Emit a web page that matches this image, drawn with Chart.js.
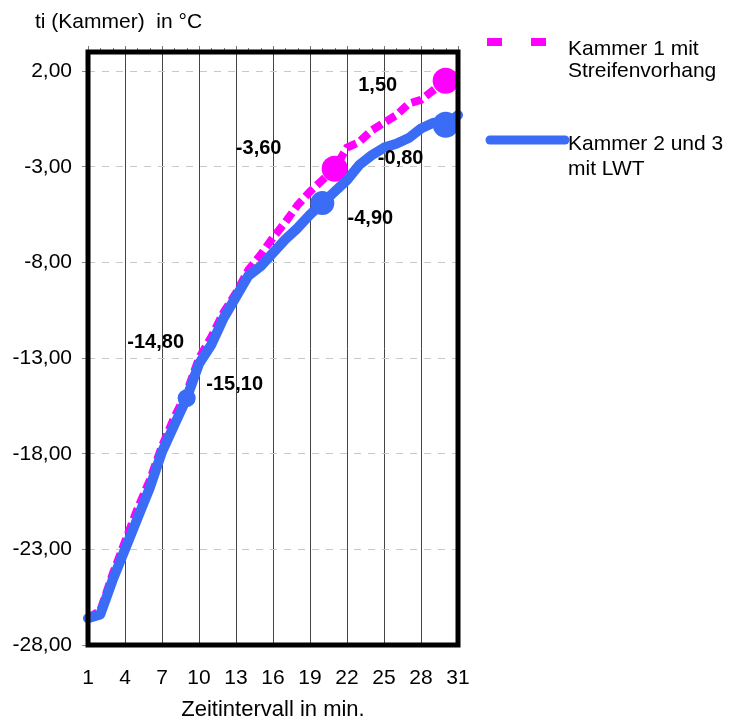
<!DOCTYPE html>
<html>
<head>
<meta charset="utf-8">
<script src="https://cdn.jsdelivr.net/npm/chart.js@4.4.1/dist/chart.umd.min.js"></script>
<style>
  html, body { margin: 0; padding: 0; background: #fff; }
  #wrap { width: 730px; height: 721px; }
</style>
</head>
<body>
<div id="wrap"><canvas id="chart"></canvas></div>
<script>
// minutes on the x axis
const minutes = ["1", "2", "3", "4", "5", "6", "7", "8", "9", "10", "11", "12", "13", "14", "15", "16",
  "17", "18", "19", "20", "21", "22", "23", "24", "25", "26", "27", "28", "29", "30", "31"]

// Kammer 1 mit Streifenvorhang
const kammer1 = [-26.6, -26.2, -24.3, -22.6, -20.9, -19.4, -17.6, -16.1, -14.8, -13.0, -11.9, -10.6, -9.6, -8.4, -7.6, -6.7,
  -5.9, -5.0, -4.3, -3.7, -3.1, -2.0, -1.7, -1.1, -0.7, -0.3, 0.3, 0.5, 1.0, 1.5, 1.7]

// Kammer 2 und 3 mit LWT
const kammer23 = [-26.6, -26.4, -24.6, -23.0, -21.4, -19.8, -17.9, -16.5, -15.1, -13.3, -12.3, -10.9, -9.8, -8.7, -8.2, -7.5,
  -6.8, -6.2, -5.5, -4.9, -4.3, -3.7, -2.9, -2.4, -2.0, -1.8, -1.5, -1.0, -0.7, -0.8, -0.3]

const yTicks = [-28, -23, -18, -13, -8, -3, 2]

// data labels (index -> text)
const kammer1Labels = { 8: "-14,80", 20: "-3,60", 29: "1,50" }
const kammer23Labels = { 8: "-15,10", 19: "-4,90", 29: "-0,80" }

const FONT = "'Liberation Sans', Arial, sans-serif"

// marker sizes and label offsets
const markers1 = { 20: 13, 29: 13 }
const markers23 = { 8: 9, 19: 12, 29: 13 }
const labelOffsets = [
  { 8: [-31, -50], 20: [-76, -20], 29: [-68, 5] },
  { 8: [48, -14], 19: [48, 15], 29: [-45, 34] },
]

const frame = {
  id: "frame",
  beforeDatasetsDraw(chart) {
    const { ctx, chartArea: a, scales } = chart
    ctx.save()
    // small ticks above the top border
    ctx.strokeStyle = "#777"
    ctx.lineWidth = 1
    minutes.forEach((m, i) => {
      const x = Math.round(scales.x.getPixelForValue(i)) + 0.5
      ctx.beginPath()
      ctx.moveTo(x, a.top - (i % 3 === 0 ? 6 : 4))
      ctx.lineTo(x, a.top)
      ctx.stroke()
    })
    ctx.restore()
  },
  afterDatasetsDraw(chart) {
    const { ctx, chartArea: a } = chart
    ctx.save()
    ctx.strokeStyle = "#000"
    ctx.lineWidth = 5
    ctx.strokeRect(a.left, a.top, a.right - a.left, a.bottom - a.top)
    ctx.restore()
  },
  afterDraw(chart) {
    const { ctx } = chart
    ctx.save()
    // data labels
    ctx.font = "bold 20px " + FONT
    ctx.fillStyle = "#000"
    ctx.textAlign = "center"
    ctx.textBaseline = "middle"
    ;[kammer1Labels, kammer23Labels].forEach((lbls, d) => {
      const meta = chart.getDatasetMeta(d)
      Object.keys(lbls).forEach(k => {
        const pt = meta.data[k]
        const off = labelOffsets[d][k]
        ctx.fillText(lbls[k], pt.x + off[0], pt.y + off[1])
      })
    })

    // y axis caption
    ctx.font = "21px " + FONT
    ctx.textAlign = "left"
    ctx.textBaseline = "alphabetic"
    ctx.fillText("ti (Kammer)  in °C", 35, 28)

    // legend
    const ds = chart.data.datasets
    ctx.strokeStyle = ds[0].borderColor
    ctx.lineWidth = 8
    ctx.setLineDash([15, 29])
    ctx.beginPath()
    ctx.moveTo(487, 42)
    ctx.lineTo(547, 42)
    ctx.stroke()
    ctx.setLineDash([])
    ctx.strokeStyle = ds[1].borderColor
    ctx.lineWidth = 9
    ctx.lineCap = "round"
    ctx.beginPath()
    ctx.moveTo(490, 140)
    ctx.lineTo(565, 140)
    ctx.stroke()
    ctx.fillText("Kammer 1 mit", 568, 55)
    ctx.fillText("Streifenvorhang", 568, 77)
    ctx.fillText("Kammer 2 und 3", 568, 150)
    ctx.fillText("mit LWT", 568, 175)
    ctx.restore()
  },
}

new Chart(document.getElementById("chart"), {
  type: "line",
  data: {
    labels: minutes,
    datasets: [
      {
        label: "Kammer 1 mit Streifenvorhang",
        data: kammer1,
        borderColor: "#FF00FF",
        backgroundColor: "#FF00FF",
        borderWidth: 8,
        borderDash: [11, 5],
        tension: 0,
        order: 1,
        pointRadius: ctx => markers1[ctx.dataIndex] || 0,
        pointBorderWidth: 0,
        pointHoverRadius: 0,
      },
      {
        label: "Kammer 2 und 3 mit LWT",
        data: kammer23,
        borderColor: "#3A6CF6",
        backgroundColor: "#3A6CF6",
        borderWidth: 10,
        borderCapStyle: "round",
        borderJoinStyle: "round",
        tension: 0,
        order: 0,
        pointRadius: ctx => markers23[ctx.dataIndex] || 0,
        pointBorderWidth: 0,
        pointHoverRadius: 0,
      },
    ],
  },
  options: {
    responsive: true,
    maintainAspectRatio: false,
    animation: false,
    layout: { padding: { left: 0, right: 272, top: 52, bottom: 0 } },
    plugins: {
      legend: { display: false },
      tooltip: { enabled: false },
    },
    scales: {
      x: {
        grid: {
          color: ctx => (ctx.index % 3 === 0 ? "#444" : "transparent"),
          lineWidth: 1,
          drawTicks: false,
        },
        border: { display: false },
        ticks: {
          autoSkip: false,
          maxRotation: 0,
          padding: 21,
          color: "#000",
          font: { family: FONT, size: 21 },
          callback: (v, i) => (i % 3 === 0 ? minutes[i] : ""),
        },
        title: {
          display: true,
          text: "Zeitintervall in min.",
          color: "#000",
          font: { family: FONT, size: 22, lineHeight: 1 },
          padding: { top: 0, bottom: 0 },
        },
        afterFit: s => { s.height = 76 },
      },
      y: {
        min: -28,
        max: 3,
        afterBuildTicks: s => { s.ticks = yTicks.map(v => ({ value: v })) },
        grid: {
          color: "#c8c8c8",
          lineWidth: 1,
          tickLength: 6,
          tickColor: "#888",
        },
        border: { display: false, dash: [7, 7] },
        ticks: {
          padding: 10,
          color: "#000",
          font: { family: FONT, size: 21 },
          callback: v => v.toFixed(2).replace(".", ","),
        },
        afterFit: s => { s.width = 88 },
      },
    },
  },
  plugins: [frame],
})
</script>
</body>
</html>
